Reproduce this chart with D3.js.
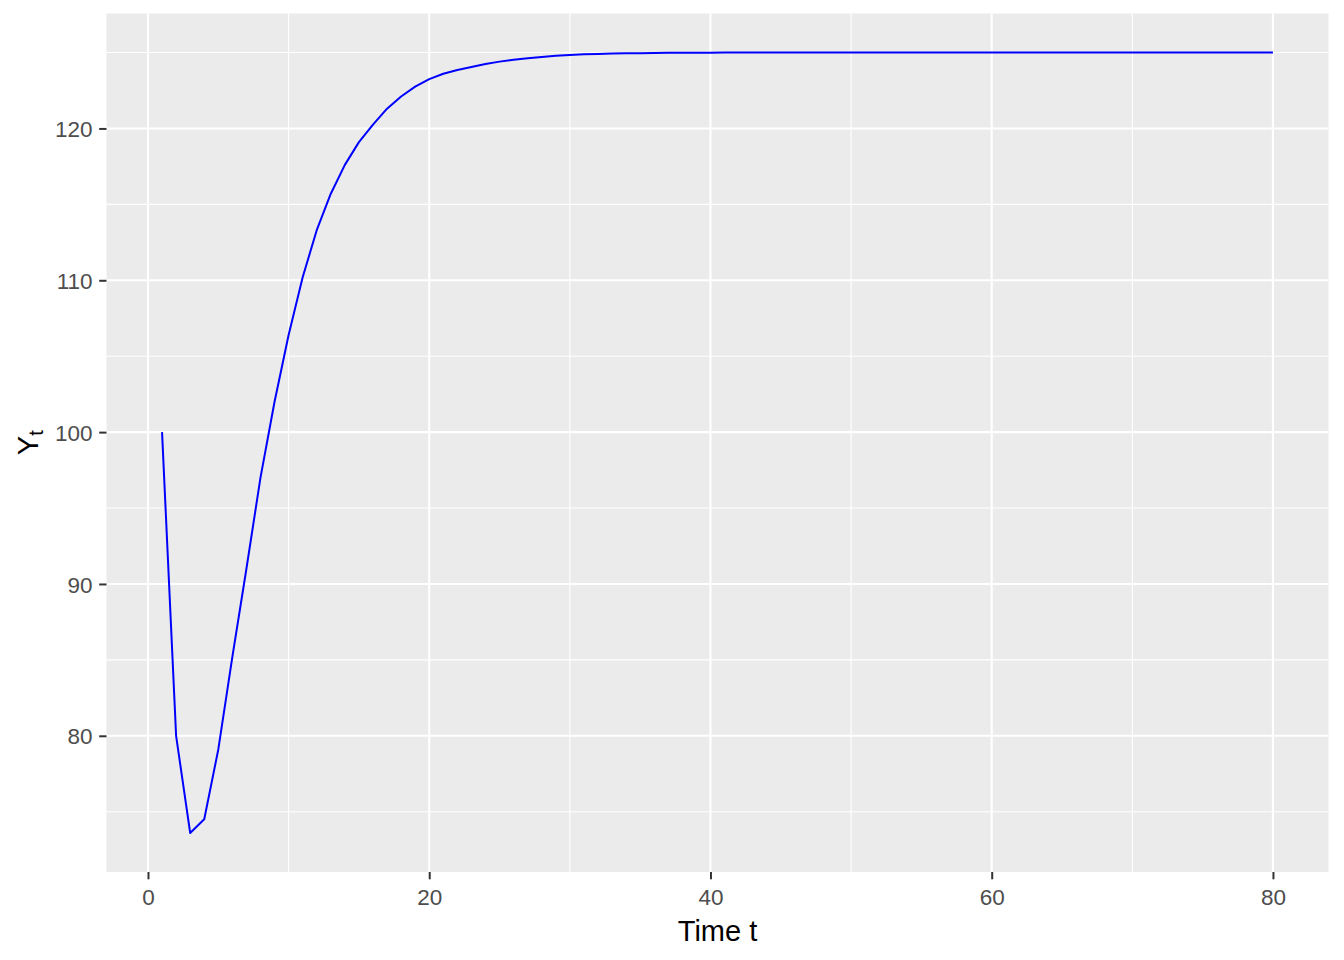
<!DOCTYPE html>
<html>
<head>
<meta charset="utf-8">
<script src="https://cdn.jsdelivr.net/npm/d3@7"></script>
<style>
  html, body { margin: 0; padding: 0; background: #ffffff; }
  svg { display: block; font-family: "Liberation Sans", Arial, sans-serif; }
</style>
</head>
<body>
<svg id="chart" width="1344" height="960"></svg>
<script>
// ---- data ----
const timeValues = d3.range(1, 81);
const yValues = [
  100, 80, 73.6, 74.5, 79.1, 85.2, 91.0, 97.0, 102.0, 106.4,
  110.2, 113.3, 115.7, 117.6, 119.1, 120.25, 121.3, 122.1, 122.75, 123.25,
  123.6, 123.85, 124.05, 124.25, 124.4, 124.52, 124.63, 124.71, 124.78, 124.84,
  124.88, 124.91, 124.93, 124.95, 124.96, 124.97, 124.98, 124.98, 124.99, 124.99,
  125, 125, 125, 125, 125, 125, 125, 125, 125, 125,
  125, 125, 125, 125, 125, 125, 125, 125, 125, 125,
  125, 125, 125, 125, 125, 125, 125, 125, 125, 125,
  125, 125, 125, 125, 125, 125, 125, 125, 125, 125
];
const xTicks = [0, 20, 40, 60, 80];
const xMinor = [10, 30, 50, 70];
const yTicks = [80, 90, 100, 110, 120];
const yMinor = [75, 85, 95, 105, 115, 125];
const xTitle = "Time t";

// ---- layout ----
const panel = { left: 106.5, right: 1328.5, top: 13.5, bottom: 872 };
const svg = d3.select("#chart");

function expand(ext) {
  const s = ext[1] - ext[0];
  return [ext[0] - 0.05 * s, ext[1] + 0.05 * s];
}
const x = d3.scaleLinear().domain(expand(d3.extent(timeValues))).range([panel.left, panel.right]);
const y = d3.scaleLinear().domain(expand(d3.extent(yValues))).range([panel.bottom, panel.top]);

// panel background
svg.append("rect")
  .attr("x", panel.left).attr("y", panel.top)
  .attr("width", panel.right - panel.left).attr("height", panel.bottom - panel.top)
  .attr("fill", "#EBEBEB");

const grid = svg.append("g");
// minor grid
grid.selectAll(".vminor").data(xMinor).enter().append("line")
  .attr("x1", d => x(d)).attr("x2", d => x(d))
  .attr("y1", panel.top).attr("y2", panel.bottom)
  .attr("stroke", "#ffffff").attr("stroke-width", 1.1);
grid.selectAll(".hminor").data(yMinor).enter().append("line")
  .attr("y1", d => y(d)).attr("y2", d => y(d))
  .attr("x1", panel.left).attr("x2", panel.right)
  .attr("stroke", "#ffffff").attr("stroke-width", 1.1);
// major grid
grid.selectAll(".vmajor").data(xTicks).enter().append("line")
  .attr("x1", d => x(d)).attr("x2", d => x(d))
  .attr("y1", panel.top).attr("y2", panel.bottom)
  .attr("stroke", "#ffffff").attr("stroke-width", 2.1);
grid.selectAll(".hmajor").data(yTicks).enter().append("line")
  .attr("y1", d => y(d)).attr("y2", d => y(d))
  .attr("x1", panel.left).attr("x2", panel.right)
  .attr("stroke", "#ffffff").attr("stroke-width", 2.1);

// line
const lineGen = d3.line().x((d, i) => x(timeValues[i])).y(d => y(d));
svg.append("path")
  .datum(yValues)
  .attr("d", lineGen)
  .attr("fill", "none")
  .attr("stroke", "#0000FF")
  .attr("stroke-width", 2)
  .attr("stroke-linejoin", "round");

// axes
const xAxis = d3.axisBottom(x).tickValues(xTicks).tickSize(7.3).tickPadding(5.5).tickFormat(d3.format("d"));
const gx = svg.append("g").attr("transform", `translate(0,${panel.bottom})`).call(xAxis);
gx.select(".domain").remove();
gx.selectAll(".tick line").attr("stroke", "#333333").attr("stroke-width", 2);
gx.selectAll(".tick text").attr("fill", "#4D4D4D").style("font-size", "22.5px")
  .attr("font-family", "'Liberation Sans', Arial, sans-serif").attr("dy", "0.9em");

const yAxis = d3.axisLeft(y).tickValues(yTicks).tickSize(7.3).tickPadding(6.6).tickFormat(d3.format("d"));
const gy = svg.append("g").attr("transform", `translate(${panel.left},0)`).call(yAxis);
gy.select(".domain").remove();
gy.selectAll(".tick line").attr("stroke", "#333333").attr("stroke-width", 2);
gy.selectAll(".tick text").attr("fill", "#4D4D4D").style("font-size", "22.5px")
  .attr("font-family", "'Liberation Sans', Arial, sans-serif").attr("dy", "0.36em");

// axis titles
svg.append("text")
  .attr("x", (panel.left + panel.right) / 2)
  .attr("y", 941)
  .attr("text-anchor", "middle")
  .attr("fill", "#000000")
  .style("font-size", "29px")
  .text(xTitle);

const yLab = svg.append("text")
  .attr("transform", `translate(38,${(panel.top + panel.bottom) / 2}) rotate(-90)`)
  .attr("text-anchor", "middle")
  .attr("fill", "#000000")
  .style("font-size", "29px");
yLab.append("tspan").text("Y");
yLab.append("tspan").attr("dy", "0.25em").style("font-size", "20px").text("t");
</script>
</body>
</html>
